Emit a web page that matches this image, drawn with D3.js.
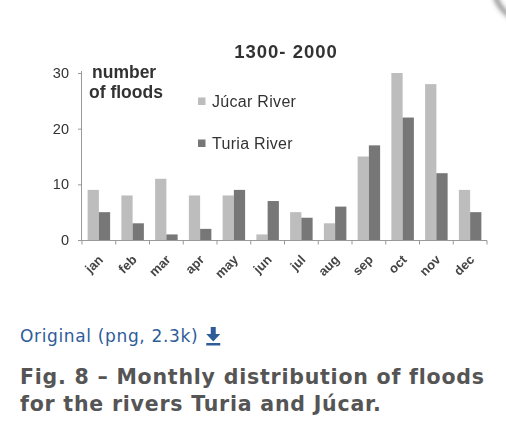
<!DOCTYPE html>
<html>
<head>
<meta charset="utf-8">
<script src="https://cdn.jsdelivr.net/npm/d3@7"></script>
<style>
  body { margin: 0; background: #fff; }
  svg { display: block; }
</style>
</head>
<body>
<div id="chart"></div>
<script>
const months = ["jan", "feb", "mar", "apr", "may", "jun", "jul", "aug", "sep", "oct", "nov", "dec"];
const seriesNames = ["Júcar River", "Turia River"];
const jucar = [9, 8, 11, 8, 8, 1, 5, 3, 15, 30, 28, 9];
const turia = [5, 3, 1, 2, 9, 7, 4, 6, 17, 22, 12, 5];
const yTicks = [0, 10, 20, 30];

const colors = ["#bdbdbd", "#777777"];
const width = 506, height = 438;
const chartFont = "Liberation Sans, Arial, sans-serif";
const pageFont = "DejaVu Sans, Verdana, sans-serif";

const svg = d3.select("#chart")
  .append("svg")
  .attr("width", width)
  .attr("height", height);

svg.append("rect").attr("width", width).attr("height", height).attr("fill", "#fff");

// soft blur, the figure is an upscaled bitmap
const defs = svg.append("defs");
defs.append("filter").attr("id", "soft")
  .append("feGaussianBlur").attr("stdDeviation", 0.6);
defs.append("filter").attr("id", "shadow")
  .append("feGaussianBlur").attr("stdDeviation", 2.5);

// corner shadow of the lightbox close button
svg.append("circle")
  .attr("cx", 530).attr("cy", -14).attr("r", 36)
  .attr("fill", "none").attr("stroke", "#555").attr("stroke-width", 3)
  .attr("filter", "url(#shadow)");

const g = svg.append("g").attr("filter", "url(#soft)");

const x = d3.scaleBand().domain(months).range([82, 487]).padding(0);
const xs = d3.scaleBand().domain(seriesNames).range([0, x.bandwidth()]).paddingInner(0).paddingOuter(0.5);
const y = d3.scaleLinear().domain([0, 30]).range([240, 73]);

const rows = months.map((m, i) => ({ month: m, values: [jucar[i], turia[i]] }));

// bars
g.selectAll(".month")
  .data(rows)
  .enter()
  .append("g")
  .attr("class", "month")
  .attr("transform", d => "translate(" + x(d.month) + ",0)")
  .selectAll("rect")
  .data(d => d.values.map((v, j) => ({ name: seriesNames[j], value: v, j: j })))
  .enter()
  .append("rect")
  .attr("x", d => xs(d.name))
  .attr("width", xs.bandwidth())
  .attr("y", d => y(d.value))
  .attr("height", d => y(0) - y(d.value))
  .attr("fill", d => colors[d.j]);

// y axis
const yAxis = g.append("g")
  .attr("transform", "translate(82,0)")
  .call(d3.axisLeft(y).tickValues(yTicks).tickSize(4).tickPadding(9));
yAxis.select(".domain").attr("d", "M-0.5," + y(0) + "V" + (y(30) - 2)).attr("stroke", "#999");
yAxis.selectAll(".tick line").attr("stroke", "#999");
yAxis.selectAll(".tick text")
  .attr("font-family", chartFont)
  .attr("font-size", 14.5)
  .attr("fill", "#333");

// x axis
const xAxis = g.append("g").attr("transform", "translate(0," + (y(0) + 0.5) + ")");
xAxis.append("line")
  .attr("x1", x.range()[0]).attr("x2", x.range()[1])
  .attr("stroke", "#999");
xAxis.selectAll(".xtick")
  .data(months.concat(["end"]))
  .enter()
  .append("line")
  .attr("x1", (d, i) => x.range()[0] + i * x.step())
  .attr("x2", (d, i) => x.range()[0] + i * x.step())
  .attr("y1", 0).attr("y2", 4)
  .attr("stroke", "#999");
xAxis.selectAll(".xlabel")
  .data(months)
  .enter()
  .append("text")
  .attr("transform", d => "translate(" + (x(d) + x.bandwidth() / 2 + 5) + ",20) rotate(-45)")
  .attr("text-anchor", "end")
  .attr("font-family", chartFont)
  .attr("font-size", 13)
  .attr("font-weight", "bold")
  .attr("fill", "#444")
  .text(d => d);

// titles
g.append("text")
  .attr("x", 286).attr("y", 58)
  .attr("text-anchor", "middle")
  .attr("font-family", chartFont)
  .attr("font-size", 18.5).attr("font-weight", "bold")
  .attr("letter-spacing", 1)
  .attr("fill", "#333")
  .text("1300- 2000");

g.append("text")
  .attr("font-family", chartFont)
  .attr("font-size", 17.5).attr("font-weight", "bold")
  .attr("fill", "#333")
  .selectAll("tspan")
  .data(["number", "of floods"])
  .enter()
  .append("tspan")
  .attr("x", (d, i) => i === 0 ? 92 : 89)
  .attr("y", (d, i) => 78 + i * 20)
  .text(d => d);

// legend
const legend = g.selectAll(".legend")
  .data(seriesNames)
  .enter()
  .append("g")
  .attr("transform", (d, i) => "translate(198," + (101 + i * 42) + ")");
legend.append("rect")
  .attr("x", 0).attr("y", -3.5).attr("width", 7.5).attr("height", 7.5)
  .attr("fill", (d, i) => colors[i]);
legend.append("text")
  .attr("x", 14).attr("y", 5.5)
  .attr("font-family", chartFont)
  .attr("font-size", 16)
  .attr("letter-spacing", 0.3)
  .attr("fill", "#333")
  .text(d => d);

// page caption
const link = svg.append("g");
const linkText = link.append("text")
  .attr("x", 20).attr("y", 342)
  .attr("font-family", pageFont)
  .attr("font-size", 17)
  .attr("letter-spacing", 0.65)
  .attr("fill", "#2e5c99")
  .text("Original (png, 2.3k)");
const lw = linkText.node().getComputedTextLength();
const ax = 20 + lw + 15;
link.append("path")
  .attr("d", "M" + (ax - 2.5) + ",327 h5 v7 h4.5 l-7,7.5 l-7,-7.5 h4.5 z M" + (ax - 7) + ",343 h14 v2.5 h-14 z")
  .attr("fill", "#2e5c99");

svg.append("text")
  .attr("font-family", pageFont)
  .attr("font-size", 20.5).attr("font-weight", "bold")
  .attr("letter-spacing", 0.78)
  .attr("fill", "#555")
  .selectAll("tspan")
  .data(["Fig. 8 – Monthly distribution of floods", "for the rivers Turia and Júcar."])
  .enter()
  .append("tspan")
  .attr("x", 20)
  .attr("y", (d, i) => 384 + i * 27)
  .text(d => d);
</script>
</body>
</html>
